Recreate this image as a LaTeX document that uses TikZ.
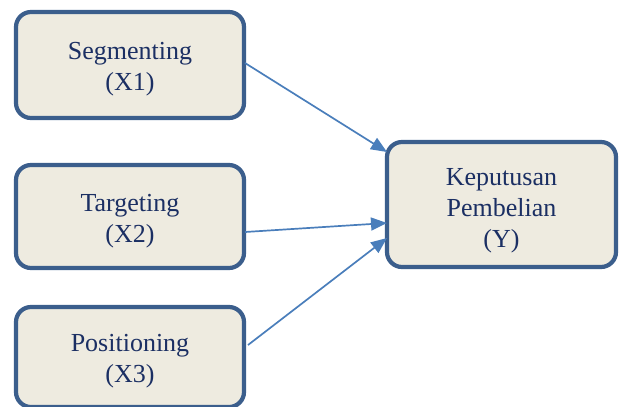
\documentclass[tikz,border=0pt]{standalone}
\usepackage{fontspec}
\setmainfont{Liberation Serif}
\usetikzlibrary{arrows.meta,calc}
\definecolor{boxfill}{HTML}{EEEBE0}
\definecolor{boxline}{HTML}{3B5E8C}
\definecolor{txt}{HTML}{1B2F63}
\definecolor{arrc}{HTML}{4A7EBB}
\begin{document}
\begin{tikzpicture}[x=1bp,y=-1bp,
  vbox/.style={draw=boxline,fill=boxfill,line width=4.2bp,rounded corners=15bp,
    inner sep=0pt,outer sep=0pt},
  vtxt/.style={align=center,text=txt,inner sep=0pt,
    font=\fontsize{26bp}{31bp}\selectfont},
  arr/.style={draw=arrc,line width=1.7bp,-{Triangle[length=16bp,width=13bp]}}]
\useasboundingbox (0,0) rectangle (619,406);
\clip (0,0) rectangle (619,406);
\node[vbox,minimum width=228bp,minimum height=106bp] (b1) at (130,65) {};
\node[vbox,minimum width=228bp,minimum height=103bp] (b2) at (130,216.5) {};
\node[vbox,minimum width=228bp,minimum height=100bp] (b3) at (130,357) {};
\node[vbox,minimum width=229bp,minimum height=125bp] (y) at (501.5,204.5) {};
\node[vtxt] (t1) at ($(b1)+(0,4)$) {Segmenting\\(X1)};
\node[vtxt] (t2) at ($(b2)+(0,5)$) {Targeting\\(X2)};
\node[vtxt] (t3) at ($(b3)+(0,4)$) {Positioning\\(X3)};
\node[vtxt] (ty) at ($(y)+(0,6)$) {Keputusan\\Pembelian\\(Y)};
\draw[arr] ($(b1.east)+(1,-2)$) -- ($(y.west)+(0,-52.5)$);
\draw[arr] ($(b2.east)+(1,15.5)$) -- ($(y.west)+(0,18.5)$);
\draw[arr] ($(b3.east)+(4,-12)$) -- ($(y.west)+(0,33.5)$);
\end{tikzpicture}
\end{document}
